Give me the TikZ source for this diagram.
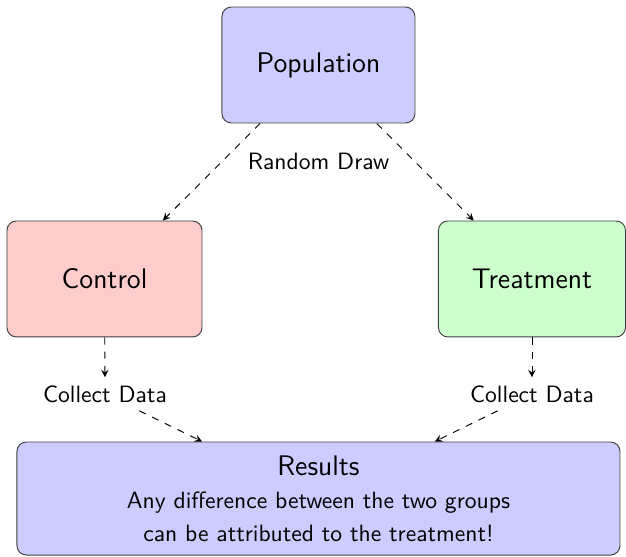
\documentclass[tikz,border=0pt]{standalone}
\usepackage{tikz}
\usetikzlibrary{shapes,arrows}

\begin{document}
\begin{tikzpicture} [font=\sffamily, >=stealth,
		box/.style={draw=black!75, rounded corners, minimum height=1.727cm},
		link/.style={->, dashed}]
		\useasboundingbox (0,0) rectangle (9.321,8.279);
		\node [box, fill=blue!20, minimum width=2.874cm] (pop) at (4.742,7.311) {\large Population};
		\node [box, fill=red!20, minimum width=2.904cm] (ctrl) at (1.556,4.125) {\large Control};
		\node [box, fill=green!20, minimum width=2.785cm] (treat) at (7.921,4.125) {\large Treatment};
		\node (draw) at (4.742,5.882) {Random Draw};
		\node (collectc) at (1.563,2.412) {Collect Data};
		\node (collectt) at (7.921,2.412) {Collect Data};
		\node [box, fill=blue!20, minimum width=8.979cm, minimum height=1.683cm, align=center] (res) at (4.742,0.856)
			{{\large Results}\\[2pt] Any difference between the two groups\\[2pt] can be attributed to the treatment!};
		\draw [link] (pop) -- (ctrl);
		\draw [link] (pop) -- (treat);
		\draw [link] (ctrl) -- (collectc);
		\draw [link] (treat) -- (collectt);
		\draw [link] (collectc) -- (res);
		\draw [link] (collectt) -- (res);
\end{tikzpicture}
\end{document}
